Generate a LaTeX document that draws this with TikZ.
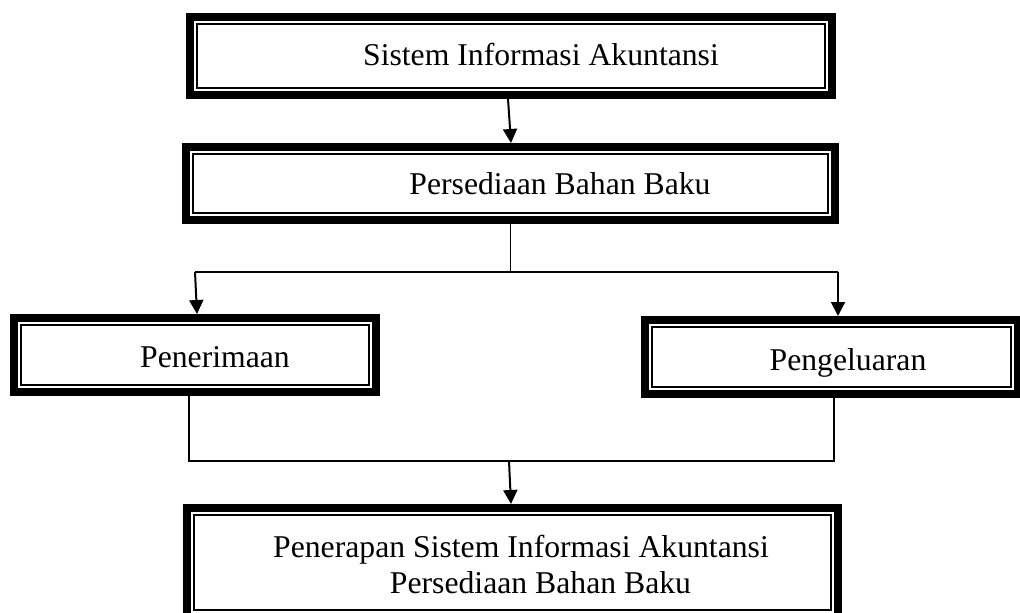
\documentclass[tikz,border=0pt]{standalone}
\usepackage{fontspec}
\setmainfont{Liberation Serif}
\usetikzlibrary{arrows.meta}
\begin{document}
\begin{tikzpicture}[x=1pt,y=-1pt,
  dbox/.style={draw, line width=8pt, inner sep=0pt, outer sep=4pt,
    path picture={\draw[line width=2pt]
      ([shift={(7pt,7pt)}]path picture bounding box.south west) rectangle
      ([shift={(-7pt,-7pt)}]path picture bounding box.north east);}},
  lbl/.style={font=\fontsize{31.7}{36}\selectfont, anchor=base, inner sep=0pt},
  conn/.style={line width=1.5pt},
  arr/.style={line width=2pt, -{Triangle[length=14pt,width=14pt]}}]
\useasboundingbox (0,0) rectangle (1020,613);
\clip (0,0) rectangle (1020,613);

% boxes
\node[dbox, minimum width=642pt, minimum height=78pt] (sia) at (511,56) {};
\node[dbox, minimum width=649pt, minimum height=73pt] (pbb) at (510.5,183.5) {};
\node[dbox, minimum width=362pt, minimum height=74pt] (pen) at (195,355) {};
\node[dbox, minimum width=373pt, minimum height=74pt] (peng) at (831.5,357) {};
\node[dbox, minimum width=651pt, minimum height=109pt] (bot) at (512.5,562.5) {};

% texts
\node[lbl] (t1) at (541,65) {Sistem Informasi Akuntansi};
\node[lbl] (t2) at (560,194) {Persediaan Bahan Baku};
\node[lbl] (t3) at (215,367) {Penerimaan};
\node[lbl] (t4) at (848,370) {Pengeluaran};
\node[lbl] (t5a) at (521,557) {Penerapan Sistem Informasi Akuntansi};
\node[lbl] (t5b) at (540.5,593) {Persediaan Bahan Baku};

% junction points
\coordinate (jL) at (195,272);
\coordinate (jR) at (838,272);
\coordinate (kL) at (189,461);
\coordinate (kR) at (834,461);
\coordinate (kM) at (509,461);

% connectors
\draw[arr] ([xshift=-3pt]sia.south) -- ([xshift=0.5pt]pbb.north);
\draw[conn] (pbb.south) -- (pbb.south |- jL);
\draw[conn] (jL) -- (jR);
\draw[arr] (jL) -- ([xshift=2pt]pen.north);
\draw[arr] (jR) -- (jR |- peng.north);
\draw[conn] (pen.south -| kL) -- (kL) -- (kR) -- (peng.south -| kR);
\draw[arr] (kM) -- ([xshift=-1.5pt]bot.north);
\end{tikzpicture}
\end{document}
